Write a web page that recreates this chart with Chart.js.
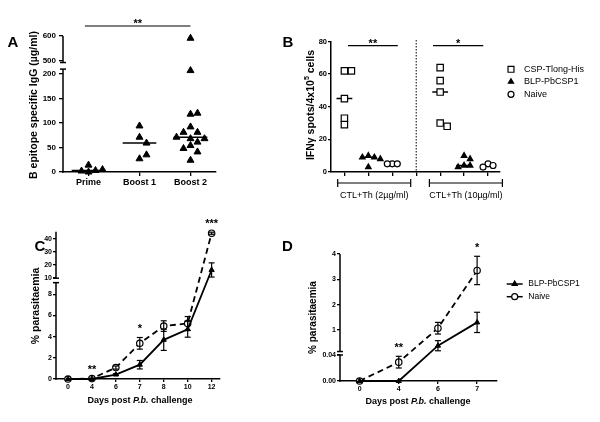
<!DOCTYPE html>
<html>
<head>
<meta charset="utf-8">
<script src="https://cdn.jsdelivr.net/npm/chart.js@4.4.1/dist/chart.umd.min.js"></script>
<style>
  body { margin: 0; background: #fff; }
  #wrap { position: relative; width: 600px; height: 422px; overflow: hidden; background: #fff; }
  canvas { position: absolute; }
</style>
</head>
<body>
<div id="wrap">
  <canvas id="A" width="270" height="210" style="left:0;top:0"></canvas>
  <canvas id="B" width="330" height="210" style="left:270px;top:0"></canvas>
  <canvas id="C" width="275" height="212" style="left:0;top:210px"></canvas>
  <canvas id="D" width="325" height="212" style="left:275px;top:210px"></canvas>
</div>
<script>
// ---- data ----
const groupsA = ["Prime", "Boost 1", "Boost 2"];
const primeA = [14, 3, 0, 2, 5];
const boost1A = [94, 71, 59, 27, 35];
const boost2A = [591, 207, 118, 120, 92, 81, 81, 68, 68, 71, 61, 54, 48, 41, 24];
const ticksA = [0, 50, 100, 150, 200, 500, 600];

const groupsB = ["CTL+Th (2µg/ml)", "CTL+Th (10µg/ml)"];
const seriesB = ["CSP-Tlong-His", "BLP-PbCSP1", "Naive"];
const cspB = [[62, 62, 45, 33, 29], [64, 56, 49, 30, 28]];
const blpB = [[10, 9, 9, 8, 3], [10, 8, 4, 4, 3]];
const naiveB = [[5, 5, 5], [5, 4, 3]];
const ticksB = [0, 20, 40, 60, 80];

const daysC = ["0", "4", "6", "7", "8", "10", "12"];
const blpC = [0, 0, 0.42, 1.35, 3.7, 4.7, 16];
const blpErrC = [0, 0, 0.08, 0.4, 1.0, 0.75, 5.5];
const naiveC = [0, 0.04, 1.08, 3.37, 5.0, 5.25, 44.5];
const naiveErrC = [0, 0.02, 0.15, 0.55, 0.5, 0.65, 0.8];
const starsC = ["", "**", "", "*", "", "", "***"];
const ticksC = [0, 2, 4, 6, 8, 10, 20, 30, 40];

const daysD = ["0", "4", "6", "7"];
const blpD = [0, 0, 0.38, 1.3];
const blpErrD = [0, 0, 0.2, 0.4];
const naiveD = [0, 0.029, 1.07, 3.35];
const naiveErrD = [0, 0.009, 0.23, 0.56];
const starsD = ["", "**", "", "*"];
const ticksD = [0, 0.04, 1, 2, 3, 4];
const seriesD = ["BLP-PbCSP1", "Naive"];

// broken y axes: which value range sits where along the axis (fraction of height)
const breaks = {
  A: { at: 300, lowTop: 210, highBottom: 494, segs: [{ from: 0, to: 200, start: 0, end: 0.7206 }, { from: 500, to: 600, start: 0.816, end: 1 }] },
  C: { at: 9.5, lowTop: 9.1, highBottom: 9.6, segs: [{ from: 0, to: 8, start: 0, end: 0.575 }, { from: 10, to: 40, start: 0.6877, end: 0.9504 }] },
  D: { at: 0.1, lowTop: 0.04, highBottom: 0.15, segs: [{ from: 0, to: 0.04, start: 0, end: 0.2047 }, { from: 1, to: 4, start: 0.4016, end: 1 }] }
};

const FONT = "'Liberation Sans', Arial, sans-serif";
Chart.defaults.font.family = FONT;
Chart.defaults.color = '#000';
const f = (w, s) => `${w} ${s}px ${FONT}`;

const Linear = Chart.LinearScale || Chart.registry.getScale('linear');
class BrokenScale extends Linear {
  static id = 'broken';
  static defaults = {};
  getPixelForValue(v) {
    const b = breaks[this.chart.canvas.id];
    const s = v < b.at ? b.segs[0] : b.segs[1];
    return this.getPixelForDecimal(s.start + (v - s.from) / (s.to - s.from) * (s.end - s.start));
  }
}
Chart.register(BrokenScale);

// ---- helpers ----
function median(a) {
  const s = [...a].sort((p, q) => p - q), n = s.length;
  return n % 2 ? s[(n - 1) / 2] : (s[n / 2 - 1] + s[n / 2]) / 2;
}
function medLine(g, m, w) {
  return { data: [{ x: g - w, y: m }, { x: g + w, y: m }], showLine: true, borderColor: '#000', borderWidth: 1.5, pointRadius: 0 };
}
function axisX(min, max, labels, size, tickLen, pad, height) {
  return {
    type: 'linear', min, max,
    afterFit: s => { s.height = height; },
    afterBuildTicks: s => { s.ticks = labels.map((_, i) => ({ value: i })); },
    ticks: { callback: v => labels[v] ?? '', font: { size, weight: 'bold' }, color: '#000', padding: pad, autoSkip: false, maxRotation: 0 },
    grid: { drawOnChartArea: false, tickLength: tickLen, color: '#000', lineWidth: 1.3 },
    border: { display: true, color: '#000', width: 1.5 }
  };
}
function axisY(type, min, max, ticks, size, tickLen, pad, width, fmt, showBorder) {
  return {
    type, min, max,
    afterFit: s => { s.width = width; },
    afterBuildTicks: s => { s.ticks = ticks.map(v => ({ value: v })); },
    ticks: { callback: fmt, font: { size, weight: 'bold' }, color: '#000', padding: pad, autoSkip: false },
    grid: { drawOnChartArea: false, tickLength: tickLen, color: '#000', lineWidth: 1.3 },
    border: { display: showBorder, color: '#000', width: 1.5 }
  };
}
function base(padTop, padRight, scales) {
  return {
    responsive: false, animation: false, events: [],
    layout: { padding: { left: 0, top: padTop, right: padRight, bottom: 0 } },
    plugins: { legend: { display: false }, tooltip: { enabled: false } },
    scales
  };
}
function text(ctx, parts, x, y, vertical) {
  ctx.save();
  ctx.translate(x, y);
  if (vertical) ctx.rotate(-Math.PI / 2);
  ctx.fillStyle = '#000';
  ctx.textBaseline = 'middle';
  ctx.textAlign = 'left';
  let w = 0;
  parts.forEach(p => { ctx.font = p[1]; w += ctx.measureText(p[0]).width; });
  let cx = -w / 2;
  parts.forEach(p => { ctx.font = p[1]; ctx.fillText(p[0], cx, p[2] || 0); cx += ctx.measureText(p[0]).width; });
  ctx.restore();
}
function seg(ctx, x1, y1, x2, y2, w, dash) {
  ctx.save();
  ctx.strokeStyle = '#000';
  ctx.lineWidth = w || 1.2;
  if (dash) ctx.setLineDash(dash);
  ctx.beginPath(); ctx.moveTo(x1, y1); ctx.lineTo(x2, y2); ctx.stroke();
  ctx.restore();
}
function stars(ctx, s, x, cy) {
  ctx.save();
  ctx.font = f('bold', 11);
  ctx.fillStyle = '#000';
  ctx.textAlign = 'center';
  ctx.textBaseline = 'alphabetic';
  ctx.fillText(s, x, cy + 6);
  ctx.restore();
}
function drawBrokenAxis(chart) {
  const b = breaks[chart.canvas.id], y = chart.scales.y, x0 = chart.chartArea.left, ctx = chart.ctx;
  const lt = y.getPixelForValue(b.lowTop), hb = y.getPixelForValue(b.highBottom);
  seg(ctx, x0, chart.chartArea.bottom + 0.75, x0, lt, 1.5);
  seg(ctx, x0, hb, x0, chart.chartArea.top, 1.5);
  seg(ctx, x0 - 3, lt, x0 + 3, lt, 1.5);
  seg(ctx, x0 - 3, hb, x0 + 3, hb, 1.5);
}
function errBars(chart, vals, errs) {
  const xs = chart.scales.x, ys = chart.scales.y, ctx = chart.ctx;
  vals.forEach((v, i) => {
    if (!errs[i]) return;
    const px = xs.getPixelForValue(i), t = ys.getPixelForValue(v + errs[i]), b = ys.getPixelForValue(v - errs[i]);
    seg(ctx, px, t, px, b, 1.2);
    seg(ctx, px - 3, t, px + 3, t, 1.2);
    seg(ctx, px - 3, b, px + 3, b, 1.2);
  });
}
function sigStars(chart, marks, a, ea, b, eb) {
  const xs = chart.scales.x, ys = chart.scales.y;
  marks.forEach((m, i) => {
    if (!m) return;
    const top = Math.min(ys.getPixelForValue(a[i] + ea[i]), ys.getPixelForValue(b[i] + eb[i]));
    stars(chart.ctx, m, xs.getPixelForValue(i), top - 11);
  });
}
function marker(ctx, style, r, x, y, fill) {
  ctx.save();
  ctx.fillStyle = fill;
  ctx.strokeStyle = '#000';
  ctx.lineWidth = 1.2;
  Chart.helpers.drawPoint(ctx, { pointStyle: style, rotation: 0, radius: r, borderWidth: 1.2 }, x, y);
  ctx.restore();
}
// spread overlapping points of one column sideways, in pixels from the scales
function swarm(chart) {
  const xs = chart.scales.x, ys = chart.scales.y;
  const unit = xs.getPixelForValue(1) - xs.getPixelForValue(0);
  chart.data.datasets.forEach(ds => {
    if (!ds.swarm) return;
    const placed = {};
    ds.data.forEach(p => {
      const py = ys.getPixelForValue(p.y), list = placed[p.g] = placed[p.g] || [];
      let off = 0;
      for (let k = 0; k < 30; k++) {
        off = (k % 2 ? 1 : -1) * Math.ceil(k / 2) * ds.swarm;
        if (list.every(q => Math.hypot(q.dx - off, q.py - py) >= ds.swarm - 0.5)) break;
      }
      list.push({ dx: off, py });
      p.x = p.g + off / unit;
    });
  });
  chart.update('none');
}

// ---- panel A ----
const colsA = [primeA, boost1A, boost2A];
const chartA = new Chart(document.getElementById('A'), {
  type: 'scatter',
  data: { datasets: [
    { data: colsA.flatMap((c, g) => c.map(v => ({ x: g, y: v, g }))), swarm: 7, pointStyle: 'triangle', pointRadius: 4, pointBackgroundColor: '#000', pointBorderColor: '#000', pointBorderWidth: 1, clip: false },
    ...colsA.map((c, g) => medLine(g, median(c), 0.33))
  ]},
  options: base(36, 54, {
    x: axisX(-0.5, 2.5, groupsA, 9, 4, 1, 38),
    y: axisY('broken', 0, 600, ticksA, 8, 4, 3, 63, v => String(v), false)
  }),
  plugins: [{ id: 'extraA', afterDraw(chart) {
    const ctx = chart.ctx, x = chart.scales.x;
    drawBrokenAxis(chart);
    text(ctx, [['A', f('bold', 15)]], 13, 42.5);
    text(ctx, [['B epitope specific IgG (µg/ml)', f('bold', 10.5)]], 34, 105, true);
    const x1 = x.getPixelForValue(-0.07), x2 = x.getPixelForValue(2);
    seg(ctx, x1, 26, x2, 26, 1.2);
    stars(ctx, '**', (x1 + x2) / 2, 21);
  } }]
});
swarm(chartA);

// ---- panel B ----
const styleB = [
  { pointStyle: 'rect', pointRadius: 4.5, pointBackgroundColor: '#fff', swarm: 7 },
  { pointStyle: 'triangle', pointRadius: 3.2, pointBackgroundColor: '#000', swarm: 6 },
  { pointStyle: 'circle', pointRadius: 3, pointBackgroundColor: '#fff', swarm: 5 }
];
const colsB = [cspB, blpB, naiveB];
const chartB = new Chart(document.getElementById('B'), {
  type: 'scatter',
  data: { datasets: [
    ...colsB.map((s, k) => Object.assign({
      data: s.flatMap((c, g) => c.map(v => ({ x: g * 4 + k, y: v, g: g * 4 + k }))),
      pointBorderColor: '#000', pointBorderWidth: 1.2, clip: false
    }, styleB[k])),
    ...colsB.flatMap((s, k) => s.map((c, g) => medLine(g * 4 + k, median(c), 0.33)))
  ]},
  options: base(41.5, 100, {
    x: axisX(-0.56, 6.5, Array(7).fill(''), 8, 4, 0, 38),
    y: axisY('linear', 0, 80, ticksB, 7.5, 3, 1, 61, v => String(v), true)
  }),
  plugins: [{ id: 'extraB', afterDraw(chart) {
    const ctx = chart.ctx, x = chart.scales.x, px = v => x.getPixelForValue(v), ca = chart.chartArea;
    seg(ctx, px(3), 40, px(3), ca.bottom, 1, [1.5, 1.5]);
    [[0.15, 2.23, '**'], [3.7, 5.8, '*']].forEach(([a, b, s]) => {
      seg(ctx, px(a), 45.7, px(b), 45.7, 1.2);
      stars(ctx, s, (px(a) + px(b)) / 2, 40.5);
    });
    [[-0.28, 2.77], [3.55, 6.6]].forEach(([a, b], g) => {
      seg(ctx, px(a), 183, px(b), 183, 1.2);
      seg(ctx, px(a), 179, px(a), 187, 1.2);
      seg(ctx, px(b), 179, px(b), 187, 1.2);
      text(ctx, [[groupsB[g], f('normal', 9)]], (px(a) + px(b)) / 2, 195.5);
    });
    const rows = [69.3, 81.7, 94.3];
    seriesB.forEach((s, k) => {
      marker(ctx, styleB[k].pointStyle, k === 0 ? 4.2 : 3, 241, rows[k], styleB[k].pointBackgroundColor);
      ctx.save(); ctx.font = f('normal', 9); ctx.fillStyle = '#000'; ctx.textBaseline = 'middle';
      ctx.fillText(s, 254, rows[k]); ctx.restore();
    });
    text(ctx, [['B', f('bold', 15)]], 18, 42.5);
    text(ctx, [['IFNγ spots/4x10', f('bold', 10.5)], ['5', f('bold', 7), -4], [' cells', f('bold', 10.5)]], 41, 105, true);
  } }]
});
swarm(chartB);

// ---- panels C and D ----
function lineSets(blp, naive) {
  return [
    { data: blp.map((v, i) => ({ x: i, y: v })), showLine: true, borderColor: '#000', borderWidth: 1.8, pointStyle: 'triangle', pointRadius: 3, pointBackgroundColor: '#000', pointBorderColor: '#000', pointBorderWidth: 1, clip: false },
    { data: naive.map((v, i) => ({ x: i, y: v })), showLine: true, borderColor: '#000', borderWidth: 1.8, borderDash: [6, 4], pointStyle: 'circle', pointRadius: 3.2, pointBackgroundColor: '#fff', pointBorderColor: '#000', pointBorderWidth: 1.2, clip: false }
  ];
}
const xTitle = [['Days post ', f('bold', 9)], ['P.b.', f('italic bold', 9)], [' challenge', f('bold', 9)]];

new Chart(document.getElementById('C'), {
  type: 'scatter',
  data: { datasets: lineSets(blpC, naiveC) },
  options: base(21.7, 55, {
    x: axisX(-0.5, 6.35, daysC, 7, 3, 1, 43),
    y: axisY('broken', 0, 45.7, ticksC, 7, 3, 1, 56, v => String(v), false)
  }),
  plugins: [{ id: 'extraC', afterDraw(chart) {
    const ctx = chart.ctx;
    drawBrokenAxis(chart);
    errBars(chart, blpC, blpErrC);
    errBars(chart, naiveC, naiveErrC);
    sigStars(chart, starsC, blpC, blpErrC, naiveC, naiveErrC);
    text(ctx, [['C', f('bold', 15)]], 40, 36.7);
    text(ctx, [['% parasitaemia', f('bold', 10.5)]], 36, 96, true);
    text(ctx, xTitle, 140, 191);
  } }]
});

new Chart(document.getElementById('D'), {
  type: 'scatter',
  data: { datasets: lineSets(blpD, naiveD) },
  options: base(44, 103.3, {
    x: axisX(-0.5, 3.5, daysD, 7, 3, 1, 41),
    y: axisY('broken', 0, 4, ticksD, 7, 3, 1, 65, v => v < 0.5 ? v.toFixed(2) : String(v), false)
  }),
  plugins: [{ id: 'extraD', afterDraw(chart) {
    const ctx = chart.ctx;
    drawBrokenAxis(chart);
    errBars(chart, blpD, blpErrD);
    errBars(chart, naiveD, naiveErrD);
    sigStars(chart, starsD, blpD, blpErrD, naiveD, naiveErrD);
    const rows = [74, 86.7];
    seriesD.forEach((s, k) => {
      seg(ctx, 231.7, rows[k], 247.7, rows[k], 1.5);
      marker(ctx, k ? 'circle' : 'triangle', 3, 239.7, rows[k], k ? '#fff' : '#000');
      ctx.save(); ctx.font = f('normal', 8.5); ctx.fillStyle = '#000'; ctx.textBaseline = 'middle';
      ctx.fillText(s, 253.3, rows[k]); ctx.restore();
    });
    text(ctx, [['D', f('bold', 15)]], 12.5, 36.7);
    text(ctx, [['% parasitaemia', f('bold', 10)]], 38.5, 107.5, true);
    text(ctx, xTitle, 143, 192);
  } }]
});
</script>
</body>
</html>
